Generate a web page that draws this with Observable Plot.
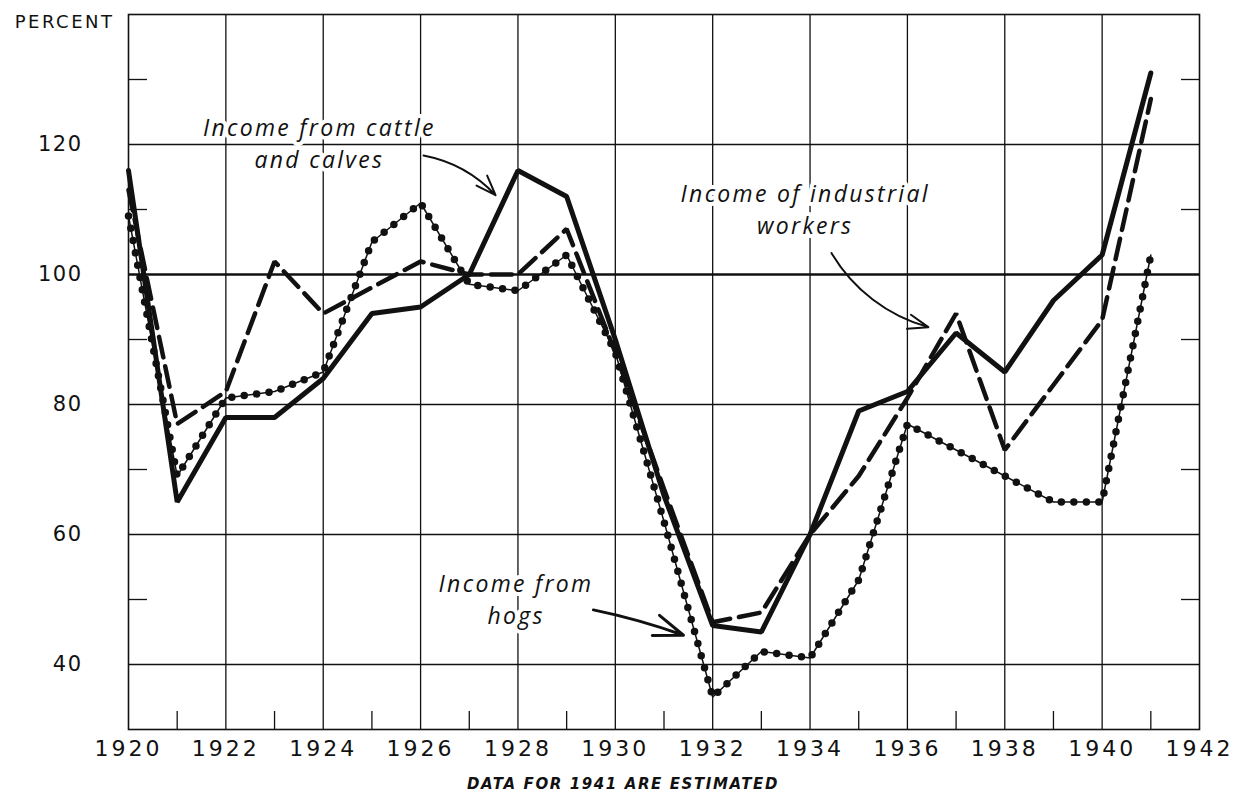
<!DOCTYPE html>
<html><head><meta charset="utf-8">
<script src="https://cdn.jsdelivr.net/npm/d3@7"></script>
<script src="https://cdn.jsdelivr.net/npm/@observablehq/plot@0.6"></script>
<style>
body{margin:0;background:#fff;}
g[aria-label="x-axis tick label"] text{letter-spacing:3px;}
g[aria-label="y-axis tick label"] text{letter-spacing:1.5px;}
g[aria-description="label"] text{letter-spacing:2.3px;}
g[aria-description="footer"] text{letter-spacing:1.6px;}
g[aria-description="unit"] text{letter-spacing:2.5px;}
</style></head><body><div id="chart"></div>
<script>
// Years (x categories)
const years = [1920,1921,1922,1923,1924,1925,1926,1927,1928,1929,1930,1931,1932,1933,1934,1935,1936,1937,1938,1939,1940,1941];
// Income from cattle and calves (solid)
const cattle = [116,65,78,78,84,94,95,100,116,112,90,66,46,45,60,79,82,91,85,96,103,131];
// Income of industrial workers (dashed)
const workers = [113,77,82,102,94,98,102,100,100,107,88,67,46.5,48,60,69,81,94,73,83,93,127];
// Income from hogs (dotted)
const hogs = [109,69,81,82,85,105,111,98.5,97.5,103,88,62,35,42,41,53,77,73,69,65,65,103];

// Axis / grid ticks
const labelYears = [1920,1922,1924,1926,1928,1930,1932,1934,1936,1938,1940,1942];
const gridYears = [1922,1924,1926,1928,1930,1932,1934,1936,1938,1940];
const oddYears = [1921,1923,1925,1927,1929,1931,1933,1935,1937,1939,1941];
const labelValues = [40,60,80,100,120];
const gridValues = [40,60,80,120];
const baseValue = [100];
const minorValues = [50,70,90,110,130];

// Annotations (series labels and pointer arrows)
const labelTexts = ["Income from cattle\nand calves","Income of industrial\nworkers","Income from\nhogs"];
const labelX = [1923.92,1933.9,1927.96];
const labelY = [116.4,106.2,46.2];
const arrowStart = [[1926.06,118.3],[1934.44,103.3],[1929.55,48.4]];
const arrowEnd = [[1927.54,112.2],[1936.43,91.9],[1931.40,44.5]];
const arrowBend = [18,-22,4];
const arrowWidth = [2,2,3];

const rows = years.map((year,i)=>({year, cattle:cattle[i], workers:workers[i], hogs:hogs[i]}));
const labels = labelTexts.map((t,i)=>({text:t, x:labelX[i], y:labelY[i]}));
const arrows = arrowStart.map((s,i)=>({x1:s[0], y1:s[1], x2:arrowEnd[i][0], y2:arrowEnd[i][1], bend:arrowBend[i], w:arrowWidth[i]}));

const ink = "#111";
const plot = Plot.plot({
  width:1236, height:792,
  marginLeft:128, marginRight:37, marginTop:14, marginBottom:63,
  x:{domain:[1920,1942], label:null},
  y:{domain:[30,140], label:null},
  style:{fontFamily:"'DejaVu Sans', sans-serif", color:ink, background:"#fff"},
  marks:[
    Plot.ruleX(gridYears, {stroke:ink, strokeWidth:1.3}),
    Plot.ruleY(gridValues, {stroke:ink, strokeWidth:1.3}),
    Plot.ruleY(baseValue, {stroke:ink, strokeWidth:2.6}),
    Plot.axisX(oddYears, {tickSize:-18, tickFormat:()=>"", stroke:ink, strokeWidth:1.3, label:null}),
    Plot.axisX(labelYears, {tickSize:0, tickPadding:11, fontSize:22, tickFormat:"d", label:null}),
    Plot.axisY(labelValues, {tickSize:0, tickPadding:46, fontSize:21, label:null}),
    Plot.axisY(minorValues, {anchor:"left", tickSize:-19, tickFormat:()=>"", stroke:ink, strokeWidth:1.3, label:null}),
    Plot.axisY(minorValues, {anchor:"right", tickSize:-19, tickFormat:()=>"", stroke:ink, strokeWidth:1.3, label:null}),
    Plot.frame({stroke:ink, strokeWidth:1.6}),
    Plot.text(labels, {x:"x", y:"y", text:"text", fontSize:23, lineHeight:1.38, fontStyle:"italic", fontFamily:"'Open Sans', 'DejaVu Sans', sans-serif", lineAnchor:"bottom", fill:ink, stroke:"white", strokeWidth:8, ariaDescription:"label"}),
    Plot.line(rows, {x:"year", y:"hogs", stroke:ink, strokeWidth:1.5}),
    Plot.line(rows, {x:"year", y:"hogs", stroke:ink, strokeWidth:7.5, strokeDasharray:"0 12.5", strokeLinecap:"round"}),
    Plot.line(rows, {x:"year", y:"workers", stroke:ink, strokeWidth:4.5, strokeDasharray:"21 9", strokeLinejoin:"miter"}),
    Plot.line(rows, {x:"year", y:"cattle", stroke:ink, strokeWidth:5, strokeLinejoin:"miter"}),
    ...arrows.map(a => Plot.arrow([a], {x1:"x1", y1:"y1", x2:"x2", y2:"y2", bend:a.bend, stroke:ink, strokeWidth:a.w, headLength:16, headAngle:40})),
    Plot.text(["PERCENT"], {frameAnchor:"top-left", textAnchor:"end", dx:-14, dy:8, fontSize:18, lineAnchor:"middle", fill:ink, ariaDescription:"unit"}),
    Plot.text(["DATA FOR 1941 ARE ESTIMATED"], {frameAnchor:"bottom", dx:-41, dy:55, fontSize:15, fontWeight:"bold", fontStyle:"italic", lineAnchor:"middle", fill:ink, ariaDescription:"footer"})
  ]
});
document.getElementById("chart").appendChild(plot);
</script></body></html>
